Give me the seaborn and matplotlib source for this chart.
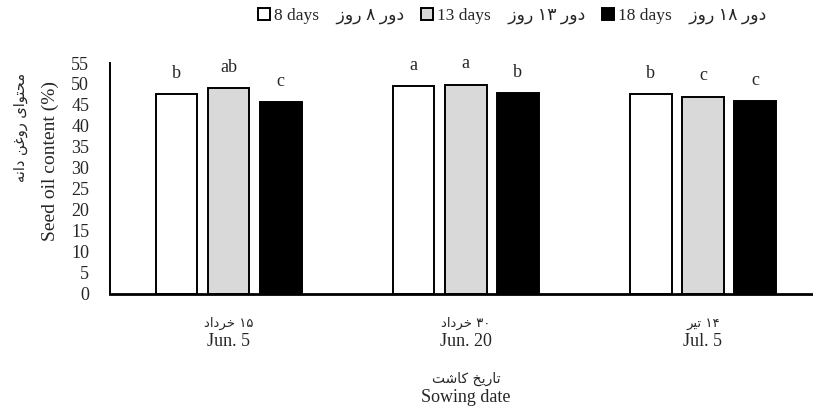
import pandas as pd
import matplotlib
matplotlib.use('Agg')
import matplotlib.pyplot as plt
import seaborn as sns

# data
dates = ['Jun. 5', 'Jun. 20', 'Jul. 5']
dates_fa = ['۱۵ خرداد', '۳۰ خرداد', '۱۴ تیر']
intervals = ['8 days', '13 days', '18 days']
intervals_fa = ['دور ۸ روز', 'دور ۱۳ روز', 'دور ۱۸ روز']
oil_8 = [47.6, 49.5, 47.6]
oil_13 = [49.0, 49.8, 46.9]
oil_18 = [45.6, 47.8, 45.9]
letters_8 = ['b', 'a', 'b']
letters_13 = ['ab', 'a', 'c']
letters_18 = ['c', 'b', 'c']

ylabel_fa = 'محتوای روغن دانه'
ylabel_en = 'Seed oil content (%)'
xlabel_fa = 'تاریخ کاشت'
xlabel_en = 'Sowing date'

# presentation forms: isolated, final, initial, medial
FORMS = {
    'ا': ('\uFE8D', '\uFE8E', None, None),
    'د': ('\uFEA9', '\uFEAA', None, None),
    'ر': ('\uFEAD', '\uFEAE', None, None),
    'ز': ('\uFEAF', '\uFEB0', None, None),
    'و': ('\uFEED', '\uFEEE', None, None),
    'ت': ('\uFE95', '\uFE96', '\uFE97', '\uFE98'),
    'ح': ('\uFEA1', '\uFEA2', '\uFEA3', '\uFEA4'),
    'خ': ('\uFEA5', '\uFEA6', '\uFEA7', '\uFEA8'),
    'ش': ('\uFEB5', '\uFEB6', '\uFEB7', '\uFEB8'),
    'غ': ('\uFECD', '\uFECE', '\uFECF', '\uFED0'),
    'م': ('\uFEE1', '\uFEE2', '\uFEE3', '\uFEE4'),
    'ن': ('\uFEE5', '\uFEE6', '\uFEE7', '\uFEE8'),
    'ه': ('\uFEE9', '\uFEEA', '\uFEEB', '\uFEEC'),
    'ی': ('\uFBFC', '\uFBFD', '\uFBFE', '\uFBFF'),
    'ک': ('\uFB8E', '\uFB8F', '\uFB90', '\uFB91'),
}


def shape_word(word):
    if not word or word[0] not in FORMS:
        return word  # digits stay left to right
    out = []
    for i, ch in enumerate(word):
        prev = word[i - 1] if i > 0 else None
        nxt = word[i + 1] if i < len(word) - 1 else None
        join_prev = prev is not None and FORMS[prev][2] is not None
        join_next = nxt is not None and FORMS[ch][2] is not None
        iso, fin, ini, med = FORMS[ch]
        if join_prev and join_next:
            out.append(med)
        elif join_prev:
            out.append(fin)
        elif join_next:
            out.append(ini)
        else:
            out.append(iso)
    return ''.join(reversed(out))


def fa(text):
    return ' '.join(shape_word(w) for w in reversed(text.split(' ')))


def main():
    df = pd.DataFrame({
        'date': dates * 3,
        'interval': [intervals[0]] * 3 + [intervals[1]] * 3 + [intervals[2]] * 3,
        'oil': oil_8 + oil_13 + oil_18,
    })

    sns.set_style('white')
    plt.rcParams['font.family'] = ['Liberation Serif', 'DejaVu Sans']

    fig = plt.figure(figsize=(8.13, 4.12), dpi=100)
    ax = fig.add_axes([110 / 813, 1 - 293.5 / 412, 702 / 813, 230.5 / 412])

    sns.barplot(data=df, x='date', y='oil', hue='interval', order=dates,
                hue_order=intervals,
                palette=['white', '#d9d9d9', 'black'], edgecolor='black',
                linewidth=1.4, width=0.66, gap=0.2, ax=ax, legend=True)

    for cont, labs in zip(ax.containers, [letters_8, letters_13, letters_18]):
        ax.bar_label(cont, labels=labs, padding=9, fontsize=13,
                     family='Liberation Serif')

    ax.set_ylim(0, 55)
    ax.set_xlim(-0.5, 2.46)
    ax.set_yticks(range(0, 56, 5))
    ax.tick_params(axis='y', length=0, pad=15, labelsize=13)
    ax.tick_params(axis='x', length=0, labelsize=13, pad=0)
    ax.set_xticks(range(len(dates)))
    ax.set_xticklabels(['' for _ in dates])
    ax.set_xlabel('')
    ax.set_ylabel('')
    sns.despine(ax=ax)
    ax.spines['left'].set_linewidth(1.4)
    ax.spines['bottom'].set_linewidth(2)
    ax.spines['left'].set_color('black')
    ax.spines['bottom'].set_color('black')

    trans = ax.get_xaxis_transform()
    for i, (en, f) in enumerate(zip(dates, dates_fa)):
        ax.text(i, -0.13, fa(f), transform=trans, ha='center', va='center',
                fontsize=9.5, family=['DejaVu Sans'])
        ax.text(i, -0.21, en, transform=trans, ha='center', va='center',
                fontsize=13)

    fig.text(466 / 813, 1 - 379 / 412, fa(xlabel_fa), ha='center',
             va='center', fontsize=10, family=['DejaVu Sans'])
    fig.text(466 / 813, 1 - 398 / 412, xlabel_en, ha='center', va='center',
             fontsize=13)
    fig.text(20 / 813, 1 - 127 / 412, fa(ylabel_fa), rotation=90,
             ha='center', va='center', fontsize=10.5, family=['DejaVu Sans'])
    fig.text(50 / 813, 1 - 161 / 412, ylabel_en, rotation=90, ha='center',
             va='center', fontsize=14)

    handles, _ = ax.get_legend_handles_labels()
    labels = [en + '    ' + fa(f) for en, f in zip(intervals, intervals_fa)]
    ax.legend(handles, labels, ncol=3, frameon=False, loc='center left',
              bbox_to_anchor=(251 / 813, 1 - 16 / 412),
              bbox_transform=fig.transFigure, fontsize=12.5,
              handlelength=0.7, handleheight=0.7, handletextpad=0.2,
              columnspacing=1.0, borderaxespad=0)

    fig.savefig('out.png', dpi=100)


if __name__ == '__main__':
    main()
